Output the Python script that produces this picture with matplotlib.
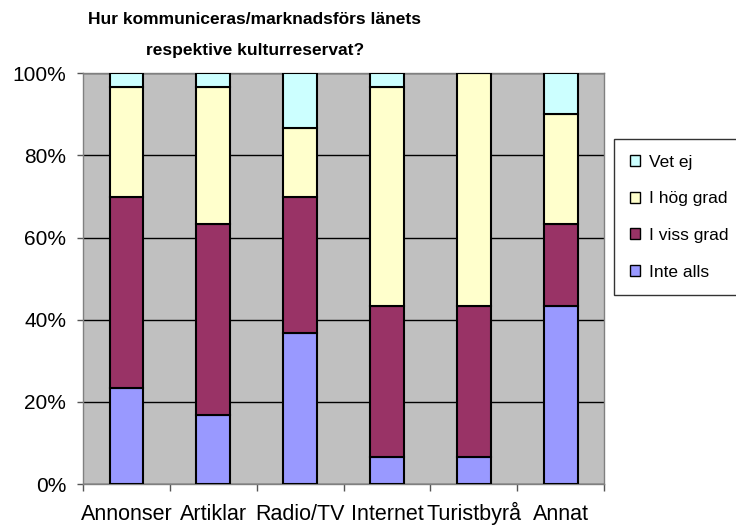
"""Stacked 100% bar chart: how the county's cultural reserves are marketed."""

import matplotlib
matplotlib.use("Agg")
import matplotlib.pyplot as plt
import numpy as np

plt.rcParams['font.family'] = ['Liberation Sans', 'DejaVu Sans']

categories = ['Annonser', 'Artiklar', 'Radio/TV', 'Internet', 'Turistbyrå', 'Annat']
series_names = ['Inte alls', 'I viss grad', 'I hög grad', 'Vet ej']
# shares in percent
inte_alls = [23.3, 16.7, 36.7, 6.7, 6.7, 43.3]
i_viss_grad = [46.7, 46.7, 33.3, 36.7, 36.7, 20.0]
i_hog_grad = [26.7, 33.3, 16.7, 53.3, 56.7, 26.7]
vet_ej = [3.3, 3.3, 13.3, 3.3, 0.0, 10.0]
colors = ['#9999FF', '#993366', '#FFFFCC', '#CCFFFF']
y_ticks = [0, 20, 40, 60, 80, 100]


def main():
    fig = plt.figure(figsize=(7.36, 5.26), dpi=100)
    ax = fig.add_axes([0.1128, 0.0798, 0.7079, 0.7808])
    ax.set_facecolor('#C0C0C0')

    x = np.arange(len(categories))
    bottom = np.zeros(len(categories))
    handles = []
    for name, vals, col in zip(series_names, [inte_alls, i_viss_grad, i_hog_grad, vet_ej], colors):
        b = ax.bar(x, vals, width=0.39, bottom=bottom, color=col,
                   edgecolor='black', linewidth=1.5, label=name, zorder=3)
        handles.append(b)
        bottom += np.array(vals)

    ax.set_xlim(-0.5, len(categories) - 0.5)
    ax.set_ylim(0, 100)
    ax.set_yticks(y_ticks)
    ax.set_yticklabels([f'{t}%' for t in y_ticks])
    ax.yaxis.grid(True, color='black', linewidth=1, zorder=1)
    ax.tick_params(axis='y', length=4, width=1, color='#555555', pad=8, labelsize=15)

    ax.set_xticks(np.arange(len(categories) + 1) - 0.5)
    ax.set_xticklabels([])
    ax.tick_params(axis='x', which='major', length=5, width=1, color='#555555')
    ax.set_xticks(x, minor=True)
    ax.set_xticklabels(categories, minor=True)
    ax.tick_params(axis='x', which='minor', length=0, pad=26, labelsize=15.5)
    for lbl in ax.get_xticklabels(minor=True):
        lbl.set_verticalalignment('baseline')

    for s in ax.spines.values():
        s.set_color('#808080')
        s.set_linewidth(1)

    fig.text(255 / 736, 1 - 20 / 526, 'Hur kommuniceras/marknadsförs länets',
             ha='center', va='center', fontsize=12.5, fontweight='bold')
    fig.text(255 / 736, 1 - 50 / 526, 'respektive kulturreservat?',
             ha='center', va='center', fontsize=12.5, fontweight='bold')

    leg = fig.legend(handles[::-1], series_names[::-1], loc='upper left',
                     bbox_to_anchor=(614 / 736, 1 - 139 / 526),
                     fontsize=12.5, frameon=True, fancybox=False,
                     edgecolor='black', handlelength=0.6, handleheight=0.6,
                     handletextpad=0.5, labelspacing=1.25, borderpad=0.9,
                     borderaxespad=0)
    leg.get_frame().set_linewidth(1)
    for h in leg.legend_handles:
        h.set_linewidth(1)

    fig.savefig('out.png', dpi=100)


if __name__ == "__main__":
    main()
